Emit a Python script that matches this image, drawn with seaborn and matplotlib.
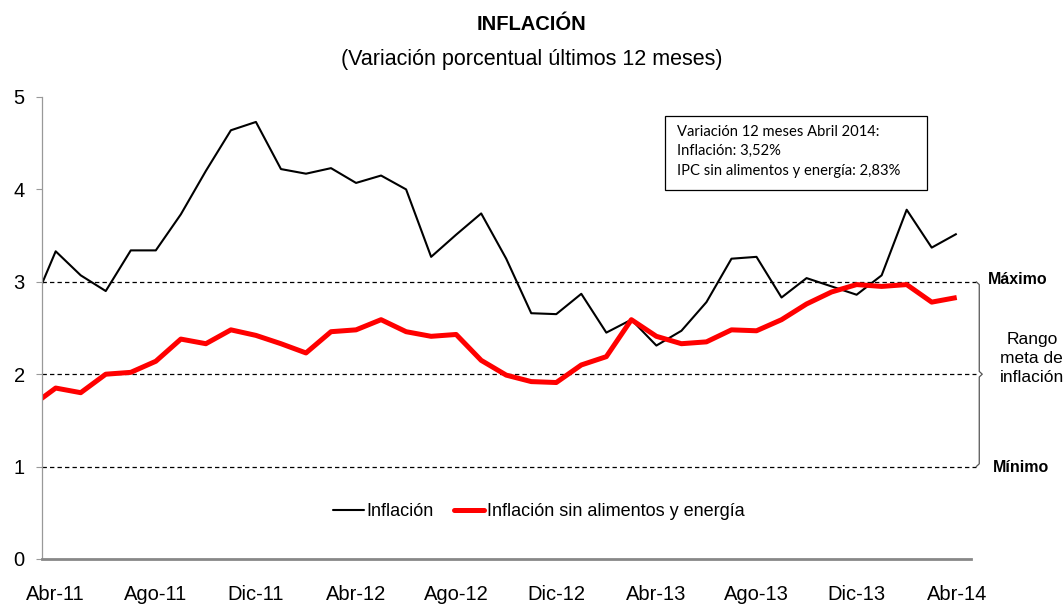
import numpy as np
import pandas as pd
import matplotlib
matplotlib.use("Agg")
import matplotlib.pyplot as plt
from matplotlib.lines import Line2D
from matplotlib.patches import Rectangle
import seaborn as sns

# ---- data ----
meses = ["Mar-11", "Abr-11", "May-11", "Jun-11", "Jul-11", "Ago-11", "Sep-11", "Oct-11", "Nov-11", "Dic-11",
         "Ene-12", "Feb-12", "Mar-12", "Abr-12", "May-12", "Jun-12", "Jul-12", "Ago-12", "Sep-12", "Oct-12",
         "Nov-12", "Dic-12", "Ene-13", "Feb-13", "Mar-13", "Abr-13", "May-13", "Jun-13", "Jul-13", "Ago-13",
         "Sep-13", "Oct-13", "Nov-13", "Dic-13", "Ene-14", "Feb-14", "Mar-14", "Abr-14"]
inflacion = [2.69, 3.33, 3.07, 2.90, 3.34, 3.34, 3.73, 4.20, 4.64, 4.73,
             4.22, 4.17, 4.23, 4.07, 4.15, 4.00, 3.27, 3.51, 3.74, 3.25,
             2.66, 2.65, 2.87, 2.45, 2.59, 2.31, 2.47, 2.78, 3.25, 3.27,
             2.83, 3.04, 2.95, 2.86, 3.07, 3.78, 3.37, 3.52]
sin_alim_energia = [1.65, 1.85, 1.80, 2.00, 2.02, 2.14, 2.38, 2.33, 2.48, 2.42,
                    2.33, 2.23, 2.46, 2.48, 2.59, 2.46, 2.41, 2.43, 2.15, 1.99,
                    1.92, 1.91, 2.10, 2.19, 2.59, 2.41, 2.33, 2.35, 2.48, 2.47,
                    2.59, 2.76, 2.89, 2.97, 2.95, 2.97, 2.78, 2.83]
tick_labels = ["Abr-11", "Ago-11", "Dic-11", "Abr-12", "Ago-12", "Dic-12", "Abr-13", "Ago-13", "Dic-13", "Abr-14"]
meta_max, meta_centro, meta_min = 3, 2, 1
serie_names = ["Inflación", "Inflación sin alimentos y energía"]
nota = "Variación 12 meses Abril 2014:\nInflación: 3,52%\nIPC sin alimentos y energía: 2,83%"

sns.set_style("white")
plt.rcParams["font.family"] = ["Liberation Sans", "DejaVu Sans"]
plt.rcParams["text.color"] = "black"
plt.rcParams["xtick.labelcolor"] = "black"
plt.rcParams["ytick.labelcolor"] = "black"

pos = np.arange(len(meses)) - 1  # Abr-11 at 0
df = pd.DataFrame({"pos": np.concatenate([pos, pos]),
                   "valor": inflacion + sin_alim_energia,
                   "serie": [serie_names[0]] * len(meses) + [serie_names[1]] * len(meses)})

fig = plt.figure(figsize=(10.64, 6.04), dpi=100)
ax = fig.add_axes([42 / 1064, 45 / 604, 929 / 1064, 462 / 604])

sns.lineplot(data=df, x="pos", y="valor", hue="serie", size="serie",
             palette={serie_names[0]: "black", serie_names[1]: "#ff0000"},
             sizes={serie_names[0]: 1.5, serie_names[1]: 3.6},
             ax=ax, legend=False, sort=False)
for l in ax.lines:
    l.set_solid_joinstyle("round")
    l.set_solid_capstyle("butt")

for v in (meta_max, meta_centro, meta_min):
    ax.plot([-0.547, 36.75], [v, v], color="black", lw=0.9, ls=(0, (3.5, 2.5)), zorder=1, clip_on=False)

ax.set_xlim(-0.547, 36.57)
ax.set_ylim(0, 5)
ax.set_yticks(range(0, 6))
ax.set_yticklabels([str(i) for i in range(0, 6)], fontsize=14.5, color="black")
ax.set_xticks([tick_labels.index(t) * 4 for t in tick_labels])
ax.set_xticklabels(tick_labels, fontsize=14.5, color="black")
ax.tick_params(axis="x", length=0, pad=19)
ax.tick_params(axis="y", length=4.5, width=0.8, color="#999999", direction="out", left=True, pad=8)
ax.set_xlabel("")
ax.set_ylabel("")
for s in ("top", "right"):
    ax.spines[s].set_visible(False)
ax.spines["left"].set_color("#999999")
ax.spines["left"].set_linewidth(0.9)
ax.spines["bottom"].set_color("#888888")
ax.spines["bottom"].set_linewidth(2.0)

# legend
handles = [Line2D([], [], color="black", lw=1.5), Line2D([], [], color="#ff0000", lw=3.6)]
leg = ax.legend(handles, serie_names, loc="center", bbox_to_anchor=(0.535, 0.103), ncol=2,
                frameon=False, fontsize=13, handlelength=1.7, handletextpad=0.15, columnspacing=1.1)
for t in leg.get_texts():
    t.set_color("black")

# brace for target range
bx = 36.9
ax.plot([bx - 0.12, bx, bx, bx + 0.12, bx, bx, bx - 0.12],
        [meta_max, meta_max - 0.03, meta_centro + 0.03, meta_centro, meta_centro - 0.03, meta_min + 0.03, meta_min],
        color="#555555", lw=0.9, clip_on=False)
ax.text(37.25, meta_max + 0.03, "Máximo", fontsize=11.5, fontweight="bold", va="center", ha="left")
ax.text(37.45, meta_min - 0.01, "Mínimo", fontsize=11.5, fontweight="bold", va="center", ha="left")
ax.text(39.0, 2.17, "Rango\nmeta de\ninflación", fontsize=12.5, ha="center", va="center", linespacing=1.3)

# annotation box
ax.add_patch(Rectangle((0.6706, 0.7987), 0.282, 0.1602, transform=ax.transAxes,
                       fc="white", ec="black", lw=0.9, zorder=4))
ax.text(0.6835, 0.940, nota, transform=ax.transAxes, fontsize=10.6, family=["Lato", "DejaVu Sans"],
        va="top", ha="left", linespacing=1.5, zorder=5)

fig.text(0.5, 0.960, "INFLACIÓN", ha="center", va="center", fontsize=14.5, fontweight="bold")
fig.text(0.5, 0.902, "(Variación porcentual últimos 12 meses)", ha="center", va="center", fontsize=15.5)

fig.savefig("out.png", dpi=100)
